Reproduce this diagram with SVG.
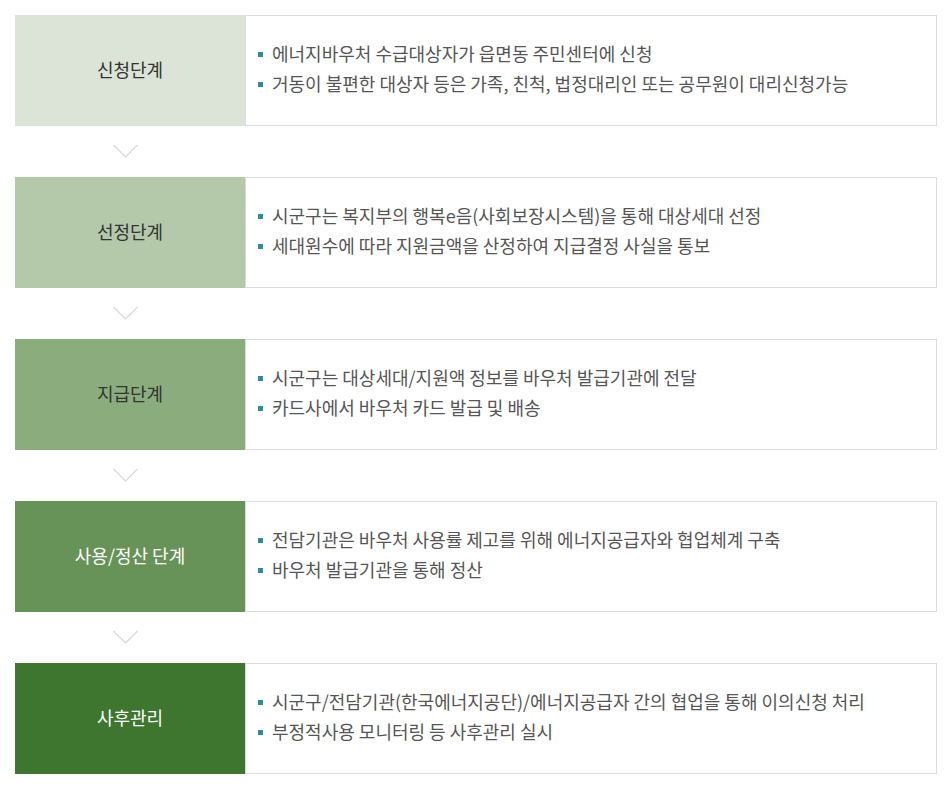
<svg xmlns="http://www.w3.org/2000/svg" width="952" height="790" viewBox="0 0 952 790">
<defs>
<style>
.lbl{font-family:"Noto Sans CJK KR","Noto Sans",sans-serif;font-size:18px;text-anchor:middle;dominant-baseline:central}
.dark{fill:#333}
.light{fill:#fff}
.txt{font-family:"Noto Sans CJK KR","Noto Sans",sans-serif;font-size:18px;fill:#555}
.box{fill:#fff;stroke:#dcdcdc;stroke-width:1}
.bul{fill:#2e8a9c}
.chev{fill:none;stroke:#dcdcdc;stroke-width:1.5}
</style>
</defs>
<rect width="952" height="790" fill="#fff"/>
<g id="step1">
<rect class="box" x="245.5" y="15.5" width="691" height="110"/>
<rect x="15" y="15" width="230" height="111" fill="#dce4d8"/>
<text class="lbl dark" x="130" y="69">신청단계</text>
<rect class="bul" x="258" y="52" width="5" height="5"/>
<text class="txt" x="272" y="61">에너지바우처 수급대상자가 읍면동 주민센터에 신청</text>
<rect class="bul" x="258" y="82" width="5" height="5"/>
<text class="txt" x="272" y="91">거동이 불편한 대상자 등은 가족, 친척, 법정대리인 또는 공무원이 대리신청가능</text>
</g>
<g id="step2">
<rect class="box" x="245.5" y="177.5" width="691" height="110"/>
<rect x="15" y="177" width="230" height="111" fill="#b3c9aa"/>
<text class="lbl dark" x="130" y="231">선정단계</text>
<rect class="bul" x="258" y="214" width="5" height="5"/>
<text class="txt" x="272" y="223">시군구는 복지부의 행복e음(사회보장시스템)을 통해 대상세대 선정</text>
<rect class="bul" x="258" y="244" width="5" height="5"/>
<text class="txt" x="272" y="253">세대원수에 따라 지원금액을 산정하여 지급결정 사실을 통보</text>
</g>
<g id="step3">
<rect class="box" x="245.5" y="339.5" width="691" height="110"/>
<rect x="15" y="339" width="230" height="111" fill="#8bad7e"/>
<text class="lbl dark" x="130" y="393">지급단계</text>
<rect class="bul" x="258" y="376" width="5" height="5"/>
<text class="txt" x="272" y="385">시군구는 대상세대/지원액 정보를 바우처 발급기관에 전달</text>
<rect class="bul" x="258" y="406" width="5" height="5"/>
<text class="txt" x="272" y="415">카드사에서 바우처 카드 발급 및 배송</text>
</g>
<g id="step4">
<rect class="box" x="245.5" y="501.5" width="691" height="110"/>
<rect x="15" y="501" width="230" height="111" fill="#679258"/>
<text class="lbl light" x="130" y="555">사용/정산 단계</text>
<rect class="bul" x="258" y="538" width="5" height="5"/>
<text class="txt" x="272" y="547">전담기관은 바우처 사용률 제고를 위해 에너지공급자와 협업체계 구축</text>
<rect class="bul" x="258" y="568" width="5" height="5"/>
<text class="txt" x="272" y="577">바우처 발급기관을 통해 정산</text>
</g>
<g id="step5">
<rect class="box" x="245.5" y="663.5" width="691" height="110"/>
<rect x="15" y="663" width="230" height="111" fill="#3e752f"/>
<text class="lbl light" x="130" y="717">사후관리</text>
<rect class="bul" x="258" y="700" width="5" height="5"/>
<text class="txt" x="272" y="709">시군구/전담기관(한국에너지공단)/에너지공급자 간의 협업을 통해 이의신청 처리</text>
<rect class="bul" x="258" y="730" width="5" height="5"/>
<text class="txt" x="272" y="739">부정적사용 모니터링 등 사후관리 실시</text>
</g>
<g id="connectors">
<polyline class="chev" points="113.5,145 125.5,157 137.5,145"/>
<polyline class="chev" points="113.5,307 125.5,319 137.5,307"/>
<polyline class="chev" points="113.5,469 125.5,481 137.5,469"/>
<polyline class="chev" points="113.5,631 125.5,643 137.5,631"/>
</g>
</svg>
